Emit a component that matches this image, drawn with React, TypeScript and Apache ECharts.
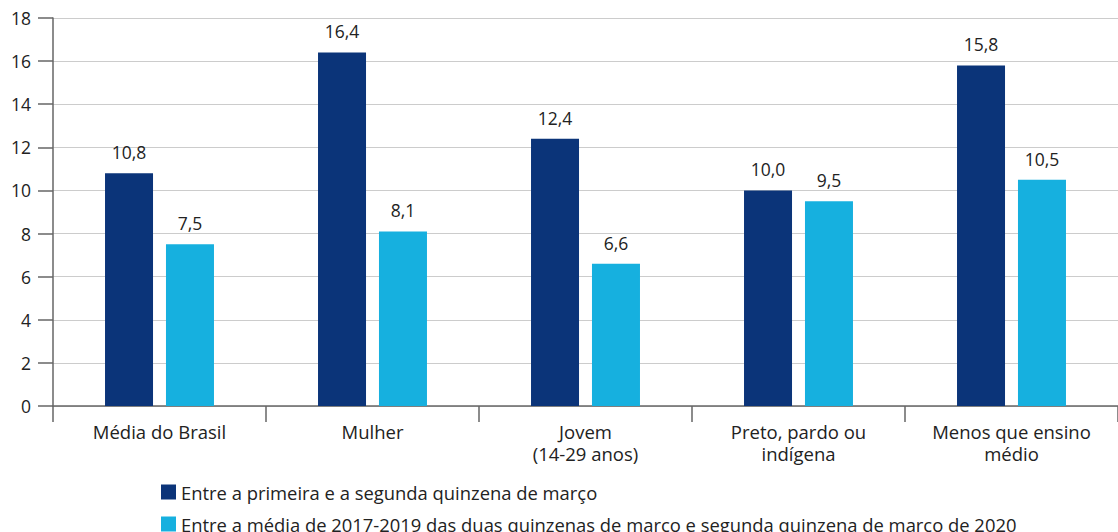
import React, { useEffect, useRef } from "react";
import * as echarts from "echarts";

const categories = [
  "Média do Brasil",
  "Mulher",
  "Jovem\n(14-29 anos)",
  "Preto, pardo ou\nindígena",
  "Menos que ensino\nmédio",
];
const seriesNames = [
  "Entre a primeira e a segunda quinzena de março",
  "Entre a média de 2017-2019 das duas quinzenas de março e segunda quinzena de março de 2020",
];
const seriesA = [10.8, 16.4, 12.4, 10.0, 15.8];
const seriesB = [7.5, 8.1, 6.6, 9.5, 10.5];
const colors = ["#0b3479", "#16b0df"];

const FONT = "'Open Sans', 'Noto Sans', sans-serif";
const fmt = (v: number) => v.toFixed(1).replace(".", ",");

export default function App() {
  const ref = useRef<HTMLDivElement>(null);
  useEffect(() => {
    if (!ref.current) return;
    const chart = echarts.init(ref.current, undefined, { renderer: "svg" });
    const label = {
      show: true,
      position: "top" as const,
      distance: 12,
      fontSize: 17.5,
      color: "#222",
      fontFamily: FONT,
      formatter: (p: any) => fmt(p.value),
    };
    const legendBase = {
      orient: "vertical",
      left: 161,
      itemWidth: 15,
      itemHeight: 15,
      itemGap: 0,
      icon: "rect",
      padding: 0,
      textStyle: { fontSize: 18.4, lineHeight: 16, color: "#222", fontFamily: FONT },
    };
    chart.setOption({
      animation: false,
      textStyle: { fontFamily: FONT },
      color: colors,
      grid: { left: 53, right: -9, top: 18, bottom: 126, containLabel: false },
      legend: [
        { ...legendBase, top: 483, data: [seriesNames[0]] },
        { ...legendBase, top: 515, data: [seriesNames[1]] },
      ],
      xAxis: {
        type: "category",
        data: categories,
        axisLine: { lineStyle: { color: "#666", width: 1.5 } },
        axisTick: { show: true, length: 16, lineStyle: { color: "#666", width: 1.5 } },
        axisLabel: {
          fontSize: 18.5,
          color: "#222",
          fontFamily: FONT,
          margin: 14,
          lineHeight: 22,
          interval: 0,
        },
      },
      yAxis: {
        type: "value",
        min: 0,
        max: 18,
        interval: 2,
        axisLine: { show: true, lineStyle: { color: "#666", width: 1.5 } },
        axisTick: { show: true, length: 15, lineStyle: { color: "#666", width: 1.5 } },
        axisLabel: { fontSize: 17.5, color: "#222", fontFamily: FONT, margin: 22 },
        splitLine: { lineStyle: { color: "#ccc", width: 1 } },
      },
      series: [
        {
          name: seriesNames[0],
          type: "bar",
          data: seriesA,
          barWidth: 48,
          barGap: "27%",
          label,
        },
        {
          name: seriesNames[1],
          type: "bar",
          data: seriesB,
          barWidth: 48,
          barGap: "27%",
          label,
        },
      ],
    });
    return () => chart.dispose();
  }, []);
  return (
    <div
      ref={ref}
      style={{ position: "fixed", left: 0, top: 0, width: 1118, height: 532, background: "#fff" }}
    />
  );
}
